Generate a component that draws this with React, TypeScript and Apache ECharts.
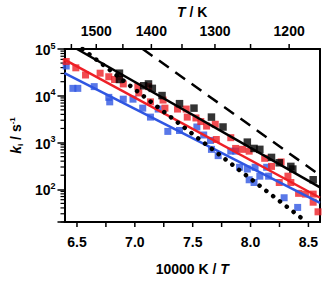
import React, { useEffect, useRef } from "react";
import * as echarts from "echarts";

// 10000 K / T  vs  k_i (s^-1)
const blackSquares: [number, number][] = [
  [6.867, 30400], [6.867, 22300], [7.076, 16400], [7.118, 17900], [7.151, 14400],
  [7.235, 10100], [7.386, 6780], [7.511, 5440], [7.662, 3500], [7.762, 2150],
  [7.972, 1020], [8.03, 748], [8.08, 715], [8.181, 481], [8.248, 369],
  [8.348, 309], [8.365, 271], [8.541, 160],
];
const redSquares: [number, number][] = [
  [6.407, 54000], [6.49, 39600], [6.574, 27800], [6.7, 30400], [6.775, 25500],
  [6.825, 22300], [6.867, 25500], [6.9, 17900], [7.026, 15700], [7.118, 15700],
  [7.034, 11500], [7.135, 7410], [7.244, 8090], [7.26, 5440], [7.369, 5200],
  [7.444, 5200], [7.453, 3500], [7.528, 3350], [7.57, 2810], [7.62, 2250],
  [7.695, 2460], [7.704, 1160], [7.829, 1270], [7.871, 748], [7.93, 715],
  [7.988, 655], [8.122, 460], [8.181, 309], [8.264, 385], [8.323, 191],
  [8.248, 140], [8.348, 140], [8.415, 82], [8.474, 79], [8.541, 53],
  [8.541, 79], [8.583, 33],
];
const blueSquares: [number, number][] = [
  [6.407, 43300], [6.465, 14400], [6.507, 14400], [6.649, 15700], [6.775, 9240],
  [6.783, 7410], [6.9, 8460], [6.984, 8460], [7.068, 5440], [7.135, 3500],
  [7.202, 5200], [7.285, 1730], [7.386, 1810], [7.536, 2150], [7.595, 1450],
  [7.654, 1110], [7.662, 714], [7.72, 525], [7.829, 655], [7.871, 655],
  [7.905, 296], [7.972, 271], [8.039, 296], [8.139, 296], [8.08, 191],
  [8.156, 191], [7.988, 160], [8.03, 140], [8.29, 66], [8.407, 41],
];
const blackFit: [number, number][] = [[6.5, 100000], [8.6, 110]];
const redFit: [number, number][] = [[6.392, 59000], [8.6, 66]];
const blueFit: [number, number][] = [[6.392, 30400], [8.6, 51]];
const dashedFit: [number, number][] = [[7.068, 100000], [8.6, 200]];
const dottedFit: [number, number][] = [[6.548, 100000], [8.484, 20]];

const xTicks = [6.5, 6.75, 7.0, 7.25, 7.5, 7.75, 8.0, 8.25, 8.5];
const xTickLabels = [6.5, 7.0, 7.5, 8.0, 8.5];
const topTempTicks = [1550, 1500, 1450, 1400, 1350, 1300, 1250, 1200];
const topTempLabels = [1500, 1400, 1300, 1200];
const yDecades = [100, 1000, 10000, 100000];

const RED = "#ee1f26";
const BLUE = "#2f56e2";
const FONT = "Liberation Sans";

export default function App() {
  const ref = useRef<HTMLDivElement>(null);
  useEffect(() => {
    if (!ref.current) return;
    document.body.style.margin = "0";
    const chart = echarts.init(ref.current, null, { renderer: "svg" });
    const xMin = 6.392, xMax = 8.6;
    const labelStyle = { fontFamily: FONT, fontWeight: "bold" as const, fontSize: 14, color: "#000" };
    chart.setOption({
      animation: false,
      grid: { left: 55, right: 2, top: 41, bottom: 47 },
      xAxis: [
        {
          type: "value", min: xMin, max: xMax, position: "bottom",
          splitLine: { show: false },
          axisLine: { show: true, onZero: false, lineStyle: { color: "#000", width: 2 } },
          axisTick: { show: false }, axisLabel: { show: false },
          name: "{n|10000 K / }{i|T}", nameLocation: "middle", nameGap: 40,
          nameTextStyle: {
            rich: {
              n: { ...labelStyle },
              i: { ...labelStyle, fontStyle: "italic" },
            },
          },
        },
        {
          type: "value", min: xMin, max: xMax, position: "top",
          splitLine: { show: false },
          axisLine: { show: true, onZero: false, lineStyle: { color: "#000", width: 2 } },
          axisTick: { show: false }, axisLabel: { show: false },
          name: "{i|T}{n| / K}", nameLocation: "middle", nameGap: 30,
          nameTextStyle: {
            rich: {
              n: { ...labelStyle },
              i: { ...labelStyle, fontStyle: "italic" },
            },
          },
        },
      ],
      yAxis: [
        {
          type: "log", logBase: 10, min: 20, max: 100000,
          splitLine: { show: false },
          axisLine: { show: true, onZero: false, lineStyle: { color: "#000", width: 2 } },
          axisTick: { show: true, length: 7, lineStyle: { color: "#000", width: 1.5 } },
          axisLabel: {
            margin: 9,
            formatter: (v: number) => {
              const e = Math.log10(v);
              if (Math.abs(e - Math.round(e)) > 1e-6) return "";
              if (!yDecades.includes(Math.round(v))) return "";
              return `{b|10}{s|${Math.round(e)}}`;
            },
            rich: {
              b: { ...labelStyle, verticalAlign: "bottom", lineHeight: 16 },
              s: { ...labelStyle, fontSize: 9, verticalAlign: "top", lineHeight: 16, padding: [0, 0, 6, 0] },
            },
          },
          name: "{i|k}{sub|i}{n| / s}{sup|-1}", nameLocation: "middle", nameGap: 38,
          nameTextStyle: {
            rich: {
              i: { ...labelStyle, fontStyle: "italic", lineHeight: 18 },
              sub: { ...labelStyle, fontSize: 8, lineHeight: 18, padding: [8, 0, 0, 0] },
              n: { ...labelStyle, lineHeight: 18 },
              sup: { ...labelStyle, fontSize: 8, lineHeight: 18, padding: [0, 0, 8, 0] },
            },
          },
        },
        {
          type: "log", logBase: 10, min: 20, max: 100000, position: "right",
          splitLine: { show: false },
          axisLine: { show: true, onZero: false, lineStyle: { color: "#000", width: 2 } },
          axisTick: { show: false }, axisLabel: { show: false },
        },
      ],
      series: [
        { type: "scatter", data: blueSquares, symbol: "rect", symbolSize: 7, itemStyle: { color: BLUE }, z: 2 },
        { type: "scatter", data: redSquares, symbol: "rect", symbolSize: 7, itemStyle: { color: RED }, z: 2 },
        { type: "scatter", data: blackSquares, symbol: "rect", symbolSize: 7.5, itemStyle: { color: "#000" }, z: 2 },
        { type: "line", data: blueFit, showSymbol: false, lineStyle: { color: BLUE, width: 2.5 }, z: 3 },
        { type: "line", data: redFit, showSymbol: false, lineStyle: { color: RED, width: 2.5 }, z: 3 },
        { type: "line", data: blackFit, showSymbol: false, lineStyle: { color: "#000", width: 2.5 }, z: 3 },
        { type: "line", data: dashedFit, showSymbol: false, lineStyle: { color: "#000", width: 2.5, type: [12, 8] }, z: 3 },
        { type: "line", data: dottedFit, showSymbol: false, lineStyle: { color: "#000", width: 4.5, type: [0.1, 8.5], cap: "round" }, z: 3 },
      ],
    });

    // Bottom ticks, top temperature axis and log minor ticks, placed through the chart's scales
    const graphics: any[] = [];
    const topY = chart.convertToPixel({ yAxisIndex: 0 }, 100000) as number;
    const botY = chart.convertToPixel({ yAxisIndex: 0 }, 20) as number;
    const leftX = chart.convertToPixel({ xAxisIndex: 0 }, xMin) as number;
    const font = `bold 14px "${FONT}"`;
    xTicks.forEach((v) => {
      const px = chart.convertToPixel({ xAxisIndex: 0 }, v) as number;
      graphics.push({ type: "line", shape: { x1: px, y1: botY, x2: px, y2: botY + 5 }, style: { stroke: "#000", lineWidth: 1.5 } });
      if (xTickLabels.includes(v)) {
        graphics.push({
          type: "text", x: px, y: botY + 13,
          style: { text: v.toFixed(1), align: "center", verticalAlign: "top", font, fill: "#000" },
        });
      }
    });
    topTempTicks.forEach((T) => {
      const px = chart.convertToPixel({ xAxisIndex: 0 }, 10000 / T) as number;
      graphics.push({ type: "line", shape: { x1: px, y1: topY, x2: px, y2: topY - 5 }, style: { stroke: "#000", lineWidth: 1.5 } });
      if (topTempLabels.includes(T)) {
        graphics.push({
          type: "text", x: px, y: topY - 11,
          style: { text: String(T), align: "center", verticalAlign: "bottom", font, fill: "#000" },
        });
      }
    });
    [10, 100, 1000, 10000].forEach((d) => {
      for (let m = 2; m <= 9; m++) {
        const v = m * d;
        if (v < 20 || v > 100000) continue;
        const py = chart.convertToPixel({ yAxisIndex: 0 }, v) as number;
        graphics.push({ type: "line", shape: { x1: leftX, y1: py, x2: leftX - 4, y2: py }, style: { stroke: "#000", lineWidth: 1.2 } });
      }
    });
    chart.setOption({ graphic: graphics });
    return () => chart.dispose();
  }, []);
  return <div ref={ref} style={{ width: 322, height: 281 }} />;
}
